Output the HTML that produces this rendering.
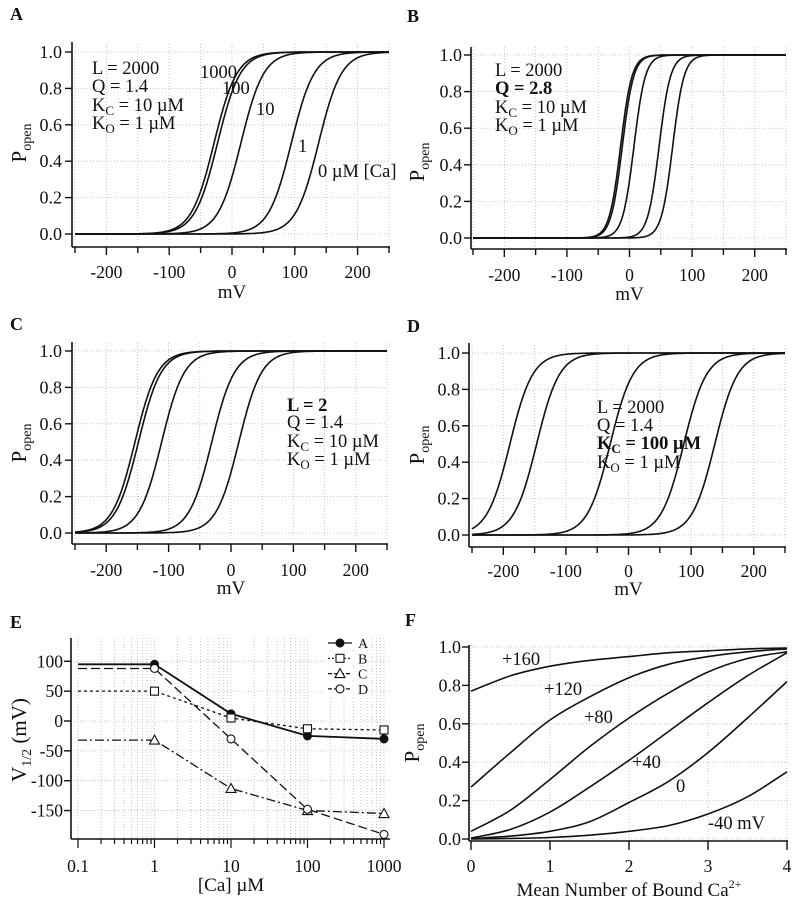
<!DOCTYPE html>
<html><head><meta charset="utf-8"><style>
html,body{margin:0;padding:0;background:#fff}
svg{display:block}
text{font-family:"Liberation Serif",serif;fill:#111}
</style></head><body>
<svg id="fig" width="794" height="899" viewBox="0 0 794 899" xmlns="http://www.w3.org/2000/svg"></svg>
<script>
// ---- data ----
const caConc = [0, 1, 10, 100, 1000];          // µM, curves in A–D
const paramL = [2000, 2000, 2, 2000];           // panels A,B,C,D
const paramQ = [1.4, 2.8, 1.4, 1.4];
const paramKc = [10, 10, 10, 100];
const paramKo = [1, 1, 1, 1];
const kT = 25.4; // mV
const eCa = [0.1, 1, 10, 100, 1000];
const eA = [95, 95, 12, -25, -30];
const eB = [50, 50, 5, -13, -15];
const eC = [-32, -32, -113, -150, -155];
const eD = [88, 88, -30, -148, -190];
const fN = [0, 0.5, 1, 1.5, 2, 2.5, 3, 3.5, 4];
const fP160 = [0.77, 0.85, 0.90, 0.93, 0.95, 0.97, 0.98, 0.99, 0.995];
const fP120 = [0.27, 0.45, 0.62, 0.74, 0.84, 0.91, 0.95, 0.975, 0.99];
const fP80 = [0.04, 0.15, 0.31, 0.48, 0.63, 0.76, 0.87, 0.94, 0.975];
const fP40 = [0.005, 0.05, 0.14, 0.27, 0.41, 0.56, 0.71, 0.85, 0.97];
const fP0 = [0.002, 0.015, 0.04, 0.09, 0.19, 0.30, 0.45, 0.63, 0.82];
const fPm40 = [0, 0.003, 0.008, 0.02, 0.04, 0.07, 0.13, 0.22, 0.35];
const mvTicks = [-200, -100, 0, 100, 200];
const pTicks = [0, 0.2, 0.4, 0.6, 0.8, 1.0];
const eYTicks = [100, 50, 0, -50, -100, -150];
const eXTicks = [0.1, 1, 10, 100, 1000];
const fXTicks = [0, 1, 2, 3, 4];

const NS = "http://www.w3.org/2000/svg";
const svg = document.getElementById('fig');
function el(tag, attrs, parent) {
  const e = document.createElementNS(NS, tag);
  for (const k in attrs) e.setAttribute(k, attrs[k]);
  (parent || svg).appendChild(e);
  return e;
}
function txt(s, x, y, size, anchor, parent, weight) {
  const t = el('text', {x: x, y: y, 'font-size': size, 'text-anchor': anchor || 'start'}, parent);
  if (weight) t.setAttribute('font-weight', weight);
  t.textContent = s;
  return t;
}
function grid(g, x1, y1, x2, y2) {
  el('line', {x1, y1, x2, y2, stroke: '#bbb', 'stroke-width': 0.8, 'stroke-dasharray': '1,2'}, g);
}

// Panels A-D
const panels = [
  {id:'a', letter:'A', lx:10, ly:20, x0:75, x1:389, yT:52, yB:234, ax:72, aTop:42, axY:247, tl:278, ml:298, ylx:62, plx:20, ply:143},
  {id:'b', letter:'B', lx:407, ly:22, x0:473, x1:786, yT:55, yB:238, ax:471, aTop:47, axY:249, tl:281, ml:300, ylx:462, plx:418, ply:162},
  {id:'c', letter:'C', lx:10, ly:330, x0:75, x1:387, yT:351, yB:533, ax:72, aTop:342, axY:544, tl:576, ml:594, ylx:62, plx:20, ply:443},
  {id:'d', letter:'D', lx:407, ly:332, x0:472, x1:785, yT:353, yB:535, ax:469, aTop:343, axY:547, tl:577, ml:595, ylx:460, plx:418, ply:445}
];
panels.forEach((p, pi) => {
  const g = el('g', {});
  
  
  const X = v => p.x0 + (v + 250) / 500 * (p.x1 - p.x0);
  const Y = v => p.yB - v * (p.yB - p.yT);
  for (let v = -250; v <= 250; v += 50) grid(g, X(v), p.yT - 8, X(v), p.yB + 8);
  pTicks.forEach(t => grid(g, p.ax, Y(t), p.x1, Y(t)));
  const l = txt(p.letter, p.lx, p.ly, 18, 'start', g, 'bold');
   
  const ya = el('line', {x1:p.ax, y1:p.aTop, x2:p.ax, y2:p.axY, stroke:'#111', 'stroke-width':1.6}, g);
   
  const xa = el('line', {x1:p.ax, y1:p.axY, x2:p.x1+1, y2:p.axY, stroke:'#111', 'stroke-width':1.6}, g);
   
  pTicks.forEach(t => {
    el('line', {x1:p.ax-7, y1:Y(t), x2:p.ax, y2:Y(t), stroke:'#111', 'stroke-width':1.4}, g);
    const tt = txt(t.toFixed(1), p.ylx, Y(t) + 6, 18, 'end', g);
     
  });
  for (let v = -250; v <= 250; v += 50) {
    const major = v % 100 === 0;
    el('line', {x1:X(v), y1:p.axY, x2:X(v), y2:p.axY + (major ? 8 : 6), stroke:'#111', 'stroke-width':1.4}, g);
  }
  mvTicks.forEach(v => {
    const tt = txt(String(v), X(v), p.tl, 17.5, 'middle', g);
     
  });
  const xt = txt('mV', (p.x0 + p.x1) / 2, p.ml, 19, 'middle', g);
   
  const yt = el('text', {x:0, y:0, 'font-size':21, 'text-anchor':'middle', transform:'translate(' + (p.plx+6) + ',' + p.ply + ') rotate(-90)'}, g);
   
  yt.innerHTML = 'P<tspan font-size="14" dy="5">open</tspan>';
  const L = paramL[pi], Q = paramQ[pi], Kc = paramKc[pi], Ko = paramKo[pi];
  caConc.forEach(c => {
    const R = Math.pow((1 + c / Kc) / (1 + c / Ko), 4);
    let d = '';
    for (let v = -250; v <= 250; v += 1) {
      const P = 1 / (1 + L * R * Math.exp(-Q * v / kT));
      d += (v === -250 ? 'M' : 'L') + X(v).toFixed(1) + ',' + Y(P).toFixed(1);
    }
    const path = el('path', {d, fill:'none', stroke:'#111', 'stroke-width':1.6}, g);
    
    
  });
});
function ann(lines, x, ys, name) {
  const g = el('g', {});
  
  
  lines.forEach((ln, i) => {
    const t = el('text', {x, y: ys[i], 'font-size':18.5}, g);
    if (ln.b) t.setAttribute('font-weight', 'bold');
    t.innerHTML = ln.h;
  });
}
const kc = n => 'K<tspan font-size="13" dy="4">C</tspan><tspan dy="-4"> = ' + n + ' µM</tspan>';
const ko = 'K<tspan font-size="13" dy="4">O</tspan><tspan dy="-4"> = 1 µM</tspan>';
ann([{h:'L = 2000'},{h:'Q = 1.4'},{h:kc(10)},{h:ko}], 92, [74,92,111,129], 'params-a');
ann([{h:'L = 2000'},{h:'Q = 2.8', b:1},{h:kc(10)},{h:ko}], 495, [76,94,113,131], 'params-b');
ann([{h:'L = 2', b:1},{h:'Q = 1.4'},{h:kc(10)},{h:ko}], 287, [411,428,447,465], 'params-c');
ann([{h:'L = 2000'},{h:'Q = 1.4'},{h:kc(100), b:1},{h:ko}], 597, [413,431,449,468], 'params-d');
[['1000',200,78],['100',222,94],['10',256,115],['1',298,152],['0 µM [Ca]',318,177]].forEach(a => {
  const t = txt(a[0], a[1], a[2], 18.5, 'start');
   
});

// Panel E
(function(){
  const g = el('g', {});
  
  
  const X = c => 78 + (Math.log10(c) + 1) * 76.5;
  const Y = v => 721 - v * 0.597;
  const ax = 71, top = 638, bot = 839, right = 390;
  for (let dec = 0.1; dec < 1000; dec *= 10) for (let k = 1; k < 10; k++) grid(g, X(dec * k), top, X(dec * k), bot);
  grid(g, X(1000), top, X(1000), bot);
  eYTicks.forEach(t => grid(g, ax, Y(t), right, Y(t)));
  const l = txt('E', 10, 628, 18, 'start', g, 'bold');
   
  const ya = el('line', {x1:ax, y1:top, x2:ax, y2:bot, stroke:'#111', 'stroke-width':1.6}, g);
   
  const xa = el('line', {x1:ax, y1:bot, x2:right, y2:bot, stroke:'#111', 'stroke-width':1.6}, g);
   
  eYTicks.forEach(t => {
    el('line', {x1:ax-7, y1:Y(t), x2:ax, y2:Y(t), stroke:'#111', 'stroke-width':1.4}, g);
    const tt = txt(String(t), 63, Y(t) + 6, 17.5, 'end', g);
     
  });
  for (let dec = 0.1; dec < 1000; dec *= 10) for (let k = 1; k < 10; k++)
    el('line', {x1:X(dec*k), y1:bot, x2:X(dec*k), y2:bot + (k === 1 ? 9 : 5), stroke:'#111', 'stroke-width':1.2}, g);
  el('line', {x1:X(1000), y1:bot, x2:X(1000), y2:bot + 9, stroke:'#111', 'stroke-width':1.2}, g);
  eXTicks.forEach(c => {
    const tt = txt(String(c), X(c), 872, 17.5, 'middle', g);
     
  });
  const xt = txt('[Ca] µM', X(10), 891, 19, 'middle', g);
   
  const yt = el('text', {x:0, y:0, 'font-size':21, 'text-anchor':'middle', transform:'translate(26,740) rotate(-90)'}, g);
   
  yt.innerHTML = 'V<tspan font-size="14" dy="5">1/2</tspan><tspan dy="-5">  (mV)</tspan>';
  const series = [
    {name:'A', vals:eA, dash:'', marker:'fc'},
    {name:'B', vals:eB, dash:'3,3', marker:'sq'},
    {name:'C', vals:eC, dash:'9,3,2,3', marker:'tri'},
    {name:'D', vals:eD, dash:'9,4', marker:'oc'}
  ];
  function marker(type, x, y, parent) {
    let m;
    if (type === 'fc') m = el('circle', {cx:x, cy:y, r:4, fill:'#111', stroke:'#111'}, parent);
    else if (type === 'oc') m = el('circle', {cx:x, cy:y, r:4, fill:'#fff', stroke:'#111', 'stroke-width':1.1}, parent);
    else if (type === 'sq') m = el('rect', {x:x-4, y:y-4, width:8, height:8, fill:'#fff', stroke:'#111', 'stroke-width':1.1}, parent);
    else m = el('path', {d:'M' + x + ',' + (y-5) + 'L' + (x+5) + ',' + (y+4) + 'L' + (x-5) + ',' + (y+4) + 'Z', fill:'#fff', stroke:'#111', 'stroke-width':1.1}, parent);
    return m;
  }
  series.forEach(s => {
    let d = '';
    s.vals.forEach((v, i) => { d += (i ? 'L' : 'M') + X(eCa[i]).toFixed(1) + ',' + Y(v).toFixed(1); });
    const path = el('path', {d, fill:'none', stroke:'#111', 'stroke-width':s.marker === 'fc' ? 1.8 : 1.3, 'stroke-dasharray':s.dash}, g);
    
    
    s.vals.forEach((v, i) => {
      if (i === 0) return;
      const m = marker(s.marker, X(eCa[i]), Y(v), g);
      
      
    });
  });
  const lg = el('g', {}, g);
  
  
  series.forEach((s, i) => {
    const y = 643 + i * 15.3;
    el('rect', {x:326, y:y-7, width:42, height:14, fill:'#fff'}, lg);
    el('line', {x1:328, y1:y, x2:352, y2:y, stroke:'#111', 'stroke-width':1.2, 'stroke-dasharray':s.dash === '' ? '' : (s.dash === '3,3' ? '2,2' : '4,2')}, lg);
    const m = marker(s.marker, 340, y, lg);
    
    
    const t = txt(s.name, 358, y + 5, 14, 'start', lg);
     
  });
})();

// Panel F
(function(){
  const g = el('g', {});
  
  
  const X = n => 471 + n * 79;
  const Y = v => 839 - v * 192;
  const ax = 469, top = 645, axY = 841, right = 788;
  fXTicks.forEach(n => grid(g, X(n), top, X(n), axY));
  pTicks.forEach(t => grid(g, ax, Y(t), right, Y(t)));
  const l = txt('F', 405, 626, 18, 'start', g, 'bold');
   
  const ya = el('line', {x1:ax, y1:top, x2:ax, y2:axY, stroke:'#111', 'stroke-width':1.6}, g);
   
  const xa = el('line', {x1:ax, y1:axY, x2:right, y2:axY, stroke:'#111', 'stroke-width':1.6}, g);
   
  pTicks.forEach(t => {
    el('line', {x1:ax-7, y1:Y(t), x2:ax, y2:Y(t), stroke:'#111', 'stroke-width':1.4}, g);
    const tt = txt(t.toFixed(1), 461, Y(t) + 6, 18, 'end', g);
     
  });
  fXTicks.forEach(n => {
    el('line', {x1:X(n), y1:axY, x2:X(n), y2:axY + 9, stroke:'#111', 'stroke-width':1.4}, g);
    const tt = txt(String(n), X(n), 872, 17.5, 'middle', g);
     
  });
  const xt = el('text', {x:X(2), y:896, 'font-size':19, 'text-anchor':'middle'}, g);
   
  xt.innerHTML = 'Mean Number of Bound Ca<tspan font-size="12" dy="-8">2+</tspan>';
  const yt = el('text', {x:0, y:0, 'font-size':21, 'text-anchor':'middle', transform:'translate(419,743) rotate(-90)'}, g);
   
  yt.innerHTML = 'P<tspan font-size="14" dy="5">open</tspan>';
  const curves = [[fP160,'+160',502,665],[fP120,'+120',544,695],[fP80,'+80',584,723],[fP40,'+40',632,768],[fP0,'0',676,792],[fPm40,'-40 mV',708,829]];
  curves.forEach(c => {
    const pts = c[0].map((v, i) => [X(fN[i]), Y(v)]);
    let d = 'M' + pts[0][0] + ',' + pts[0][1];
    for (let i = 0; i < pts.length - 1; i++) {
      const p0 = pts[Math.max(0, i-1)], p1 = pts[i], p2 = pts[i+1], p3 = pts[Math.min(pts.length-1, i+2)];
      const c1 = [p1[0] + (p2[0]-p0[0])/6, p1[1] + (p2[1]-p0[1])/6];
      const c2 = [p2[0] - (p3[0]-p1[0])/6, p2[1] - (p3[1]-p1[1])/6];
      d += 'C' + c1[0].toFixed(1) + ',' + c1[1].toFixed(1) + ' ' + c2[0].toFixed(1) + ',' + c2[1].toFixed(1) + ' ' + p2[0].toFixed(1) + ',' + p2[1].toFixed(1);
    }
    const path = el('path', {d, fill:'none', stroke:'#111', 'stroke-width':1.6}, g);
    
    
    const t = txt(c[1], c[2], c[3], 18.5, 'start', g);
     
  });
})();
</script>
</body></html>
